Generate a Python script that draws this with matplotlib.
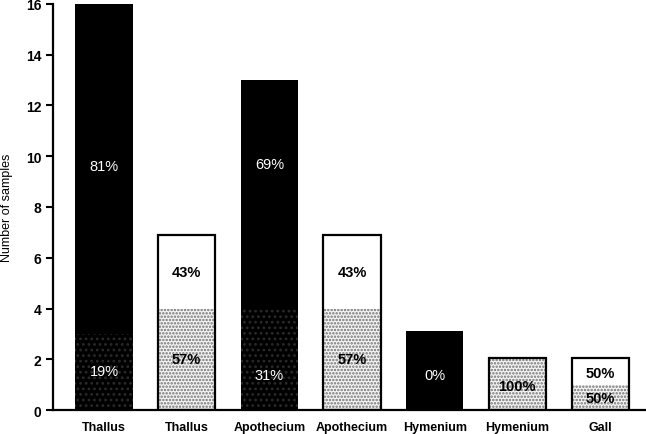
import matplotlib.pyplot as plt

plt.rcParams['font.family'] = ['Liberation Sans', 'DejaVu Sans']
plt.rcParams['hatch.linewidth'] = 1.2

# categorias e valores
categorias = ["Thallus", "Thallus", "Apothecium", "Apothecium", "Hymenium", "Hymenium", "Gall"]
parte_baixo = [3, 4, 4, 4, 0, 2.05, 1]
parte_cima = [13, 2.9, 9, 2.9, 3.1, 0, 1.05]
rotulo_baixo = ["19%", "57%", "31%", "57%", "", "100%", "50%"]
rotulo_cima = ["81%", "43%", "69%", "43%", "0%", "", "50%"]
escura = [True, False, True, False, True, False, False]

# posição vertical dos rótulos
y_baixo = [1.55, 2.0, 1.4, 2.0, 0, 0.95, 0.47]
y_cima = [9.6, 5.45, 9.7, 5.45, 1.4, 0, 1.45]

fig = plt.figure(figsize=(6.46, 4.35), dpi=100)
ax = fig.add_axes([0.082, 0.055, 0.918, 0.934])

x = list(range(len(categorias)))
largura = 0.69

for i in x:
    total = parte_baixo[i] + parte_cima[i]
    if escura[i]:
        # parte de baixo preta com pontinhos cinza
        ax.bar(i, parte_baixo[i], largura, color="black", hatch="...", edgecolor="#2a2a2a", linewidth=0)
        ax.bar(i, parte_cima[i], largura, bottom=parte_baixo[i], color="black", linewidth=0)
    else:
        ax.bar(i, parte_baixo[i], largura, color="#f5f5f5", hatch=".....", edgecolor="#707070", linewidth=0)
        ax.bar(i, parte_cima[i], largura, bottom=parte_baixo[i], color="white", linewidth=0)
        ax.bar(i, total, largura, fill=False, edgecolor="black", linewidth=1.6)

    cor = "white" if escura[i] else "black"
    peso = "normal" if escura[i] else "bold"
    if rotulo_baixo[i]:
        ax.text(i, y_baixo[i], rotulo_baixo[i], ha="center", va="center", color=cor, fontsize=10.5, fontweight=peso)
    if rotulo_cima[i]:
        ax.text(i, y_cima[i], rotulo_cima[i], ha="center", va="center", color=cor, fontsize=10.5, fontweight=peso)

ax.set_xlim(-0.617, 6.556)
ax.set_ylim(0, 16)
ax.set_yticks([0, 2, 4, 6, 8, 10, 12, 14, 16])
ax.set_xticks(x)
ax.set_xticklabels(categorias, fontsize=9, fontweight="bold")
ax.tick_params(axis="x", length=0, pad=8)
ax.tick_params(axis="y", length=5, width=1.5, labelsize=10, direction="out")
for t in ax.get_yticklabels():
    t.set_fontweight("bold")

ax.spines["top"].set_visible(False)
ax.spines["right"].set_visible(False)
ax.spines["left"].set_linewidth(1.6)
ax.spines["bottom"].set_linewidth(1.6)

ax.set_ylabel("Number of samples", fontsize=9, labelpad=9)

plt.savefig("out.png", dpi=100)
